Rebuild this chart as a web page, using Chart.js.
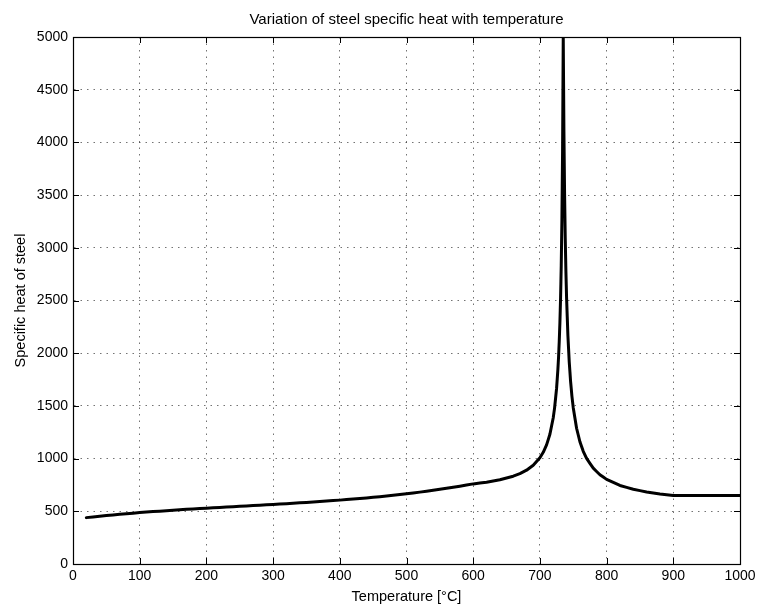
<!DOCTYPE html>
<html>
<head>
<meta charset="utf-8">
<script src="https://cdn.jsdelivr.net/npm/chart.js@4/dist/chart.umd.min.js"></script>
<style>
  html, body { margin: 0; padding: 0; background: #fff; }
  #wrap { width: 757px; height: 608px; }
</style>
</head>
<body>
<div id="wrap"><canvas id="c" width="757" height="608"></canvas></div>
<script>
// Temperature (°C)
const temperature = [
  20, 40, 60, 80, 100, 120, 140, 160, 180, 200,
  220, 240, 260, 280, 300, 320, 340, 360, 380, 400,
  420, 440, 460, 480, 500, 520, 540, 560, 580, 600,
  620, 640, 660, 670, 680, 690, 700, 705, 710, 715,
  720, 722, 725, 727, 728, 729, 730, 731, 732, 733,
  734, 735, 736, 737, 738, 739, 740, 742, 744, 746,
  748, 750, 755, 760, 765, 770, 780, 790, 800, 820,
  840, 860, 880, 900, 950, 1000
];
// Specific heat of steel (J/kgK) at those temperatures
const specificHeat = [
  440, 453, 466, 477, 488, 497, 506, 515, 522, 530,
  537, 544, 551, 558, 565, 572, 580, 588, 597, 606,
  616, 627, 639, 652, 667, 682, 699, 718, 738, 760,
  776, 799, 833, 857, 890, 937, 1008, 1060, 1130, 1231,
  1388, 1479, 1666, 1848, 1966, 2111, 2291, 2523, 2833, 3266,
  3917, 5000, 4109, 3515, 3091, 2773, 2525, 2165, 1916, 1733,
  1593, 1483, 1288, 1160, 1069, 1002, 909, 847, 803, 745,
  709, 683, 665, 650, 650, 650
];
const xTicks = [0, 100, 200, 300, 400, 500, 600, 700, 800, 900, 1000];
const yTicks = [0, 500, 1000, 1500, 2000, 2500, 3000, 3500, 4000, 4500, 5000];

const titleText = 'Variation of steel specific heat with temperature';
const xLabel = 'Temperature [°C]';
const yLabel = 'Specific heat of steel';

const points = temperature.map((t, i) => ({ x: t, y: specificHeat[i] }));
const FONT = '"Liberation Sans", Arial, Helvetica, sans-serif';

const frameTicks = {
  id: 'frameTicks',
  afterDraw(chart) {
    const { ctx, chartArea: a, scales } = chart;
    const L = 6;
    ctx.save();
    ctx.strokeStyle = '#000';
    ctx.lineWidth = 1;
    ctx.beginPath();
    xTicks.forEach(v => {
      const px = Math.round(scales.x.getPixelForValue(v)) + 0.5;
      ctx.moveTo(px, a.bottom); ctx.lineTo(px, a.bottom - L);
      ctx.moveTo(px, a.top); ctx.lineTo(px, a.top + L);
    });
    yTicks.forEach(v => {
      const py = Math.round(scales.y.getPixelForValue(v)) + 0.5;
      ctx.moveTo(a.left, py); ctx.lineTo(a.left + L, py);
      ctx.moveTo(a.right, py); ctx.lineTo(a.right - L, py);
    });
    ctx.stroke();
    ctx.lineWidth = 1.2;
    ctx.strokeRect(Math.round(a.left) + 0.5, Math.round(a.top) + 0.5,
                   Math.round(a.right - a.left), Math.round(a.bottom - a.top));
    // title centred over the plot area
    ctx.fillStyle = '#000';
    ctx.font = '15px ' + FONT;
    ctx.textAlign = 'center';
    ctx.textBaseline = 'middle';
    ctx.fillText(titleText, (a.left + a.right) / 2, 20);
    ctx.restore();
  }
};

new Chart(document.getElementById('c'), {
  type: 'scatter',
  data: {
    datasets: [{
      data: points,
      showLine: true,
      borderColor: '#000',
      backgroundColor: '#000',
      borderWidth: 3,
      borderJoinStyle: 'round',
      borderCapStyle: 'round',
      pointRadius: 0,
      tension: 0.00001,
      fill: false
    }]
  },
  options: {
    responsive: false,
    animation: false,
    layout: { padding: { left: 0, right: 17, top: 37, bottom: 0 } },
    plugins: {
      legend: { display: false },
      tooltip: { enabled: false },
      title: { display: false }
    },
    scales: {
      x: {
        type: 'linear',
        min: 0, max: 1000,
        afterFit(s) { s.height = 44; s.paddingRight = 0; s.paddingLeft = 0; },
        afterBuildTicks(s) { s.ticks = xTicks.map(v => ({ value: v })); },
        ticks: { color: '#000', font: { family: FONT, size: 14 }, padding: 4, maxRotation: 0,
                 callback: v => String(v) },
        grid: { color: 'rgba(0,0,0,0.55)', lineWidth: 1, drawTicks: false, tickLength: 0 },
        border: { display: true, color: '#000', width: 1, dash: [1.5, 5] },
        title: {
          display: true, text: xLabel, color: '#000',
          font: { family: FONT, size: 14.5 }, padding: { top: 2, bottom: 2 }
        }
      },
      y: {
        type: 'linear',
        min: 0, max: 5000,
        afterFit(s) { s.width = 73; },
        afterBuildTicks(s) { s.ticks = yTicks.map(v => ({ value: v })); },
        ticks: { color: '#000', font: { family: FONT, size: 14 }, padding: 5,
                 callback: v => String(v) },
        grid: { color: 'rgba(0,0,0,0.55)', lineWidth: 1, drawTicks: false, tickLength: 0 },
        border: { display: true, color: '#000', width: 1, dash: [1.5, 5] },
        title: {
          display: true, text: yLabel, color: '#000',
          font: { family: FONT, size: 14.5 }, padding: { top: 12, bottom: 0 }
        }
      }
    }
  },
  plugins: [frameTicks]
});
</script>
</body>
</html>
